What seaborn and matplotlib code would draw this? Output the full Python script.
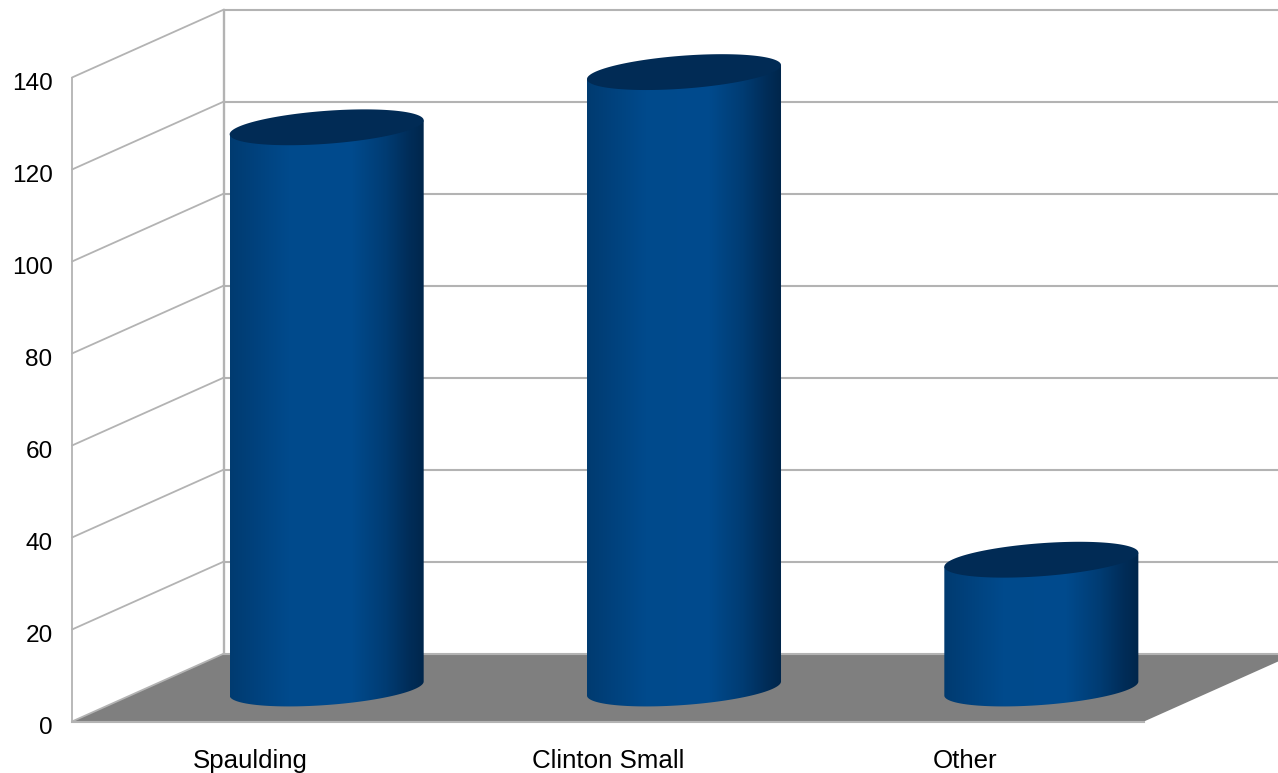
import numpy as np
import matplotlib
matplotlib.use("Agg")
import matplotlib.pyplot as plt
from matplotlib.colors import LinearSegmentedColormap
from matplotlib.patches import PathPatch, Polygon
from matplotlib.path import Path
from matplotlib.transforms import Affine2D
import seaborn as sns

categories = ["Spaulding", "Clinton Small", "Other"]
values = [122, 134, 28]
y_ticks = [0, 20, 40, 60, 80, 100, 120, 140]

sns.set_theme(style="white")
plt.rcParams["font.family"] = ["Liberation Sans", "DejaVu Sans"]

GRID = "#b3b3b3"
FLOOR = "#7f7f7f"
TOP = "#012b55"
side = LinearSegmentedColormap.from_list(
    "side",
    [(0, "#003b70"), (0.1, "#01407a"), (0.3, "#004a8c"), (0.62, "#004b8e"),
     (0.8, "#003c73"), (0.92, "#002d59"), (1, "#00264b")],
)

fig = plt.figure(figsize=(12.78, 7.73), dpi=100)
ax = fig.add_axes([72 / 1278, (773 - 721.5) / 773, 1072 / 1278, 644 / 773])

sns.barplot(x=categories, y=values, ax=ax, width=0.543, saturation=1, color="#004a8c")
bars = list(ax.containers[0])

ax.set_xlim(-0.5, 2.5)
ax.set_ylim(0, 140)

# depth of the fake 3d box, in data units
px_x = 3 / 1072
px_y = 140 / 644
depth_x = 152 * px_x
depth_y = 68 * px_y
bar_dx = 76 * px_x
bar_dy = 33 * px_y

ax.add_patch(Polygon([(-0.5, 0), (-0.5 + depth_x, depth_y), (2.5 + depth_x, depth_y), (2.5, 0)],
                     closed=True, fc=FLOOR, ec="none", clip_on=False, zorder=1))

for v in y_ticks:
    ax.plot([-0.5, -0.5 + depth_x], [v, v + depth_y], color=GRID, lw=1.3, clip_on=False, zorder=1.5)
    ax.plot([-0.5 + depth_x, 3.5], [v + depth_y, v + depth_y], color=GRID, lw=1.5, clip_on=False, zorder=1.5)
ax.plot([-0.5 + depth_x, -0.5 + depth_x], [depth_y, 140 + depth_y], color=GRID, lw=1.7, clip_on=False, zorder=1.5)

# swap each flat bar for a tilted cylinder
t = np.linspace(0, 2 * np.pi, 181)
half = t[:91]
for bar in bars:
    x0 = bar.get_x() + bar_dx
    w = bar.get_width()
    h = bar.get_height()
    bar.set_visible(False)
    cx = x0 + w / 2
    a = w / 2
    b = 16.5 * px_y
    tilt = 7 * px_y

    # t runs from right edge over the lower side for the base, back over the top
    lower_x = cx + a * np.cos(half)
    lower_y = bar_dy - b * np.sin(half) + tilt * np.cos(half)
    body = list(zip(lower_x, lower_y)) + [(x0, h + bar_dy - tilt), (x0 + w, h + bar_dy + tilt)]
    patch = PathPatch(Path(body + [body[0]]), fc="none", ec="none", clip_on=False, zorder=3)
    ax.add_patch(patch)
    im = ax.imshow(np.linspace(0, 1, 256)[None, :], cmap=side, aspect="auto",
                   extent=(x0, x0 + w, -5, h + bar_dy + 10), zorder=3)
    im.set_clip_box(fig.bbox)
    im.set_clip_path(patch)

    cap_x = cx + a * np.cos(t)
    cap_y = h + bar_dy + b * np.sin(t) + tilt * np.cos(t)
    ax.add_patch(Polygon(np.column_stack([cap_x, cap_y]), closed=True, fc=TOP, ec="none",
                         clip_on=False, zorder=4))

ax.set_xlim(-0.5, 2.5)
ax.set_ylim(0, 140)
ax.set_yticks(y_ticks)
ax.tick_params(axis="y", length=0, pad=14, labelsize=17.6, colors="black")
ax.tick_params(axis="x", length=0, pad=20, labelsize=18.6, colors="black")
for lab in ax.get_yticklabels():
    lab.set_transform(lab.get_transform() + Affine2D().translate(0, -4))
ax.set_xlabel("")
ax.set_ylabel("")
sns.despine(ax=ax, top=True, right=True)
ax.spines["left"].set_color(GRID)
ax.spines["left"].set_linewidth(1.3)
ax.spines["bottom"].set_color(GRID)
ax.spines["bottom"].set_linewidth(1.5)
ax.patch.set_alpha(0)

fig.savefig("out.png", dpi=100)
